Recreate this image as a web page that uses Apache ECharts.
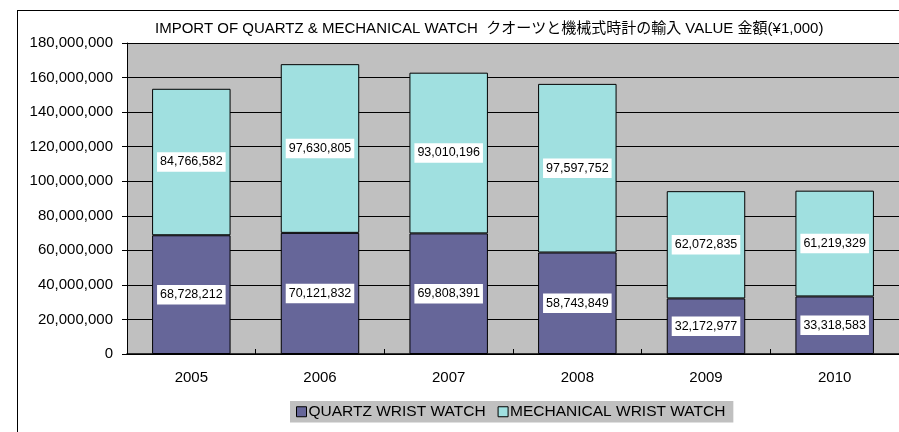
<!DOCTYPE html>
<html><head><meta charset="utf-8">
<script src="https://cdn.jsdelivr.net/npm/echarts@6/dist/echarts.min.js"></script>
<style>html,body{margin:0;padding:0;background:#fff}#c{width:899px;height:432px;position:relative}
#frame{position:absolute;left:17px;top:10px;width:900px;height:440px;border:1px solid #000;box-sizing:border-box;pointer-events:none}</style>
</head><body><div id="c"></div><div id="frame"></div>
<script>
const years = ['2005','2006','2007','2008','2009','2010'];
const quartz = [68728212, 70121832, 69808391, 58743849, 32172977, 33318583];
const mechanical = [84766582, 97630805, 93010196, 97597752, 62072835, 61219329];
const titleText = 'IMPORT OF QUARTZ & MECHANICAL WATCH  クオーツと機械式時計の輸入 VALUE 金額(¥1,000)';
const seriesNames = ['QUARTZ WRIST WATCH', 'MECHANICAL WRIST WATCH'];

const fontFam = '"Liberation Sans", Arial, "Noto Sans CJK JP", sans-serif';
const chart = echarts.init(document.getElementById('c'), null, {renderer: 'canvas'});
const fmt = v => Number(v).toLocaleString('en-US');
const label = {
  show: true, position: 'inside', color: '#000', fontSize: 12.5, fontFamily: fontFam,
  backgroundColor: '#fff', padding: [4, 3, 3, 3],
  formatter: p => fmt(p.value)
};
chart.setOption({
  animation: false,
  textStyle: {fontFamily: fontFam},
  title: {
    text: titleText, left: 150, top: 16,
    textStyle: {fontSize: 15, fontWeight: 'normal', color: '#000', fontFamily: fontFam}
  },
  grid: {left: 127, right: 0, top: 43, bottom: 78, backgroundColor: '#c0c0c0', show: true, borderWidth: 0},
  legend: {
    data: seriesNames, left: 290, top: 401, backgroundColor: '#c0c0c0',
    padding: [3, 8, 3, 6], itemGap: 12, itemWidth: 10, itemHeight: 10, icon: 'rect',
    itemStyle: {borderColor: '#000', borderWidth: 1},
    textStyle: {fontSize: 15.5, color: '#000', padding: [0, 0, 0, -3]}
  },
  xAxis: {
    type: 'category', data: years,
    axisLine: {lineStyle: {color: '#000', width: 1.5}},
    axisTick: {show: true, inside: true, length: 5, lineStyle: {color: '#000'}},
    axisLabel: {fontSize: 15, color: '#000', margin: 16}
  },
  yAxis: {
    type: 'value', min: 0, max: 180000000, interval: 20000000,
    axisLine: {show: true, lineStyle: {color: '#000'}},
    axisTick: {show: true, length: 5, lineStyle: {color: '#000'}},
    splitLine: {lineStyle: {color: '#000', width: 1}},
    axisLabel: {fontSize: 15, color: '#000', margin: 14, formatter: v => fmt(v)}
  },
  series: [
    {name: seriesNames[0], type: 'bar', stack: 's', data: quartz, barWidth: '61%',
     itemStyle: {color: '#666699', borderColor: '#000', borderWidth: 1}, label: label},
    {name: seriesNames[1], type: 'bar', stack: 's', data: mechanical, barWidth: '61%',
     itemStyle: {color: '#a0e0e0', borderColor: '#000', borderWidth: 1}, label: label}
  ]
});
</script></body></html>
